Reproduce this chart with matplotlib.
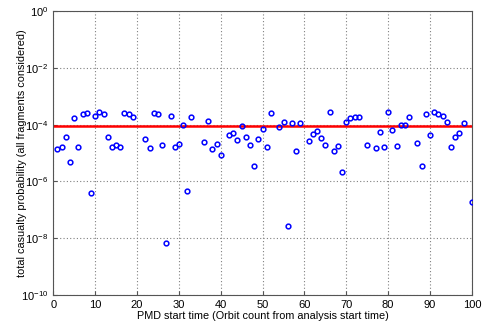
import numpy as np
import matplotlib
matplotlib.use("Agg")
import matplotlib.pyplot as plt

plt.rcParams["font.family"] = ["Liberation Sans", "DejaVu Sans"]
plt.rcParams["mathtext.fontset"] = "custom"
plt.rcParams["mathtext.rm"] = "Liberation Sans"
plt.rcParams["mathtext.it"] = "Liberation Sans"

# orbit index of each PMD start (gaps = no casualty value)
orbits = [1, 2, 3, 4, 5, 6, 7, 8, 9, 10, 11, 12, 13, 14, 15, 16, 17, 18, 19,
          22, 23, 24, 25, 26, 27, 28, 29, 30, 31, 32, 33, 36, 37, 38, 39, 40,
          42, 43, 44, 45, 46, 47, 48, 49, 50, 51, 52, 54, 55, 56, 57, 58, 59,
          61, 62, 63, 64, 65, 66, 67, 68, 69, 70, 71, 72, 73, 75, 77, 78, 79,
          80, 81, 82, 83, 84, 85, 87, 88, 89, 90, 91, 92, 93, 94, 95, 96, 97,
          98, 100]

casualty = [1.35e-5, 1.6e-5, 3.7e-5, 4.8e-6, 1.66e-4, 1.6e-5, 2.4e-4, 2.6e-4,
            3.9e-7, 1.96e-4, 2.8e-4, 2.35e-4, 3.6e-5, 1.7e-5, 1.9e-5, 1.7e-5,
            2.6e-4, 2.35e-4, 1.9e-4,
            3.2e-5, 1.5e-5, 2.6e-4, 2.3e-4, 1.9e-5, 6.6e-9, 2.1e-4, 1.6e-5,
            2.1e-5, 9.4e-5, 4.7e-7, 1.86e-4, 2.4e-5, 1.3e-4, 1.4e-5, 2.1e-5,
            8.3e-6,
            4.3e-5, 5.2e-5, 3.0e-5, 8.9e-5, 3.6e-5, 1.9e-5, 3.5e-6, 3.1e-5,
            7.3e-5, 1.6e-5, 2.6e-4, 8.5e-5, 1.26e-4, 2.8e-8, 1.17e-4, 1.15e-5,
            1.1e-4,
            2.6e-5, 4.7e-5, 6.1e-5, 3.3e-5, 1.96e-5, 2.7e-4, 1.15e-5, 1.8e-5,
            2.1e-6, 1.26e-4, 1.75e-4, 1.9e-4, 1.85e-4, 1.96e-5, 1.55e-5,
            5.6e-5, 1.7e-5,
            2.7e-4, 6.3e-5, 1.8e-5, 9.9e-5, 9.5e-5, 1.86e-4, 2.2e-5, 3.6e-6,
            2.3e-4, 4.2e-5, 2.7e-4, 2.35e-4, 2.1e-4, 1.26e-4, 1.6e-5, 3.6e-5,
            5.2e-5, 1.17e-4, 1.9e-7]

mean_level = 9.0e-5

x_ticks = [0, 10, 20, 30, 40, 50, 60, 70, 80, 90, 100]
y_ticks = [1e-10, 1e-8, 1e-6, 1e-4, 1e-2, 1e0]
y_labels = [r"$10^{-10}$", r"$10^{-8}$", r"$10^{-6}$", r"$10^{-4}$",
            r"$10^{-2}$", r"$10^{0}$"]

fig = plt.figure(figsize=(4.89, 3.25), dpi=100)
ax = fig.add_axes([0.109, 0.092, 0.856, 0.874])

ax.semilogy(orbits, casualty, "o", markerfacecolor="none",
            markeredgecolor="#0000ff", markersize=3.4, markeredgewidth=1.1,
            zorder=3)
ax.axhline(mean_level, color="#ff0000", linewidth=1.8, zorder=2)

ax.set_xlim(0, 100)
ax.set_ylim(1e-10, 1e0)
ax.set_xticks(x_ticks)
ax.set_yticks(y_ticks)
ax.set_yticklabels(y_labels)
ax.yaxis.set_minor_locator(matplotlib.ticker.NullLocator())

ax.grid(True, which="major", linestyle=(0, (1, 2)), color="#808080",
        linewidth=0.8)
ax.tick_params(direction="in", length=3, labelsize=8, colors="#555555",
               labelcolor="black")
for spine in ax.spines.values():
    spine.set_color("#555555")
    spine.set_linewidth(0.8)

ax.set_xlabel("PMD start time (Orbit count from analysis start time)",
              fontsize=7.8, labelpad=1)
ax.set_ylabel("total casualty probability (all fragments considered)",
              fontsize=7.8, labelpad=-4)

fig.savefig("out.png", dpi=100)
